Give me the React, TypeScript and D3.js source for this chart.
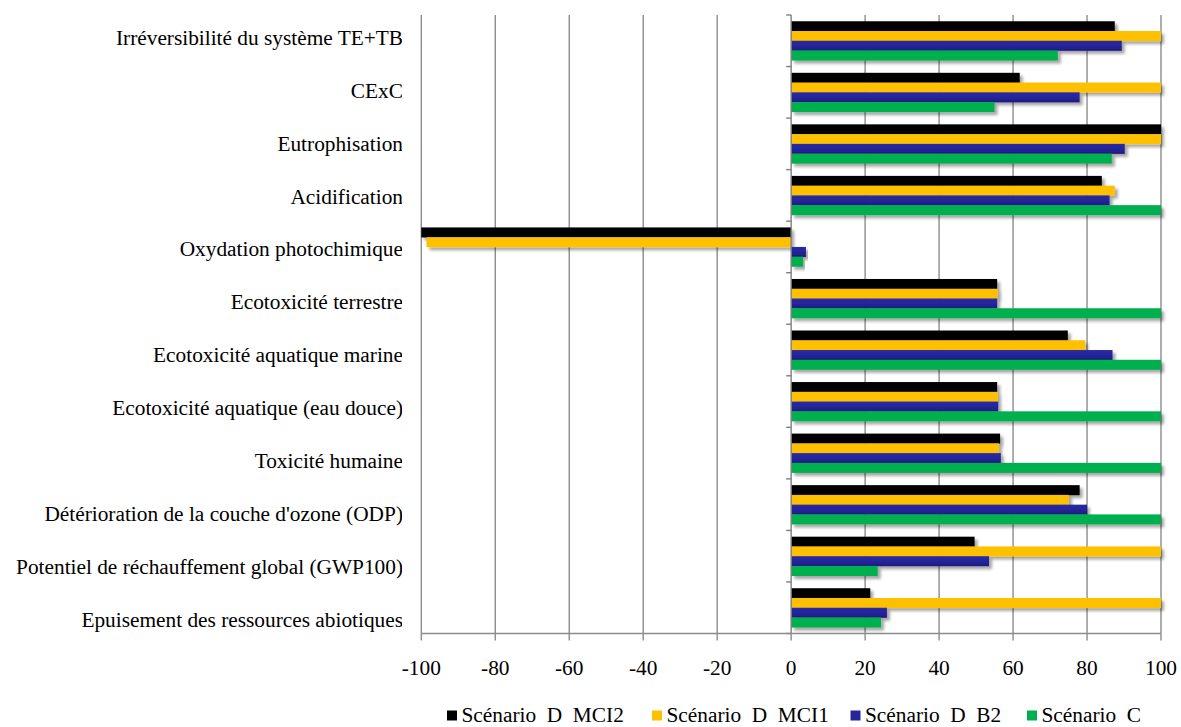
import React from "react";
import * as d3 from "d3";

const categories = [
  "Irréversibilité du système TE+TB",
  "CExC",
  "Eutrophisation",
  "Acidification",
  "Oxydation photochimique",
  "Ecotoxicité terrestre",
  "Ecotoxicité aquatique marine",
  "Ecotoxicité aquatique (eau douce)",
  "Toxicité humaine",
  "Détérioration de la couche d'ozone (ODP)",
  "Potentiel de réchauffement global (GWP100)",
  "Epuisement des ressources abiotiques",
];

const seriesNames = ["Scénario  D  MCI2", "Scénario  D  MCI1", "Scénario  D  B2", "Scénario  C"];

const scenarioD_MCI2 = [87.5, 61.8, 100, 84, -100, 55.7, 74.8, 55.7, 56.5, 78, 49.6, 21.4];
const scenarioD_MCI1 = [100, 100, 100, 87.5, -98.6, 55.9, 79.5, 55.9, 56.2, 75.1, 100, 100];
const scenarioD_B2 = [89.4, 78, 90.2, 86.1, 4.0, 55.7, 86.9, 56.0, 56.7, 80, 53.5, 25.9];
const scenarioC = [72.1, 55, 86.7, 100, 3.2, 100, 100, 100, 100, 100, 23.4, 24.3];

const xTicks = [-100, -80, -60, -40, -20, 0, 20, 40, 60, 80, 100];

const colors = ["#000000", "#FFC000", "#25259A", "#00B050"];
const textStyle: React.CSSProperties = {
  fontFamily: "\"Liberation Serif\", \"Times New Roman\", \"DejaVu Serif\", serif",
  fontSize: "21.33px",
  whiteSpace: "pre",
};

export default function App() {
  const W = 1181, H = 727;
  const plotLeft = 421.3, plotRight = 1161, plotTop = 15, plotBottom = 633.5;
  const x = d3.scaleLinear().domain([-100, 100]).range([plotLeft, plotRight]);
  const y = d3.scaleBand<string>().domain(categories).range([plotTop, plotBottom]).paddingInner(0.243).paddingOuter(0.1215);
  const yBounds = d3.scaleBand<string>().domain(categories).range([plotTop, plotBottom]);
  const ySub = d3.scaleBand<string>().domain(seriesNames).range([0, y.bandwidth()]);
  const yLabel = d3.scalePoint<string>().domain(categories).range([45, 626.5]);
  const series = [scenarioD_MCI2, scenarioD_MCI1, scenarioD_B2, scenarioC];
  const legendX = [447, 652, 850.5, 1027];

  return (
    <svg width={W} height={H} style={{ position: "absolute", left: 0, top: 0, background: "#fff" }}>
      <defs>
        <filter id="sh" x="-5%" y="-50%" width="115%" height="250%">
          <feGaussianBlur in="SourceAlpha" stdDeviation="1.5" />
          <feOffset dx="2.5" dy="3" result="b" />
          <feComponentTransfer>
            <feFuncA type="linear" slope="0.35" />
          </feComponentTransfer>
          <feMerge>
            <feMergeNode />
            <feMergeNode in="SourceGraphic" />
          </feMerge>
        </filter>
        <linearGradient id="blueGrad" x1="0" y1="0" x2="0" y2="1">
          <stop offset="0" stopColor="#2A2AA6" />
          <stop offset="0.5" stopColor="#25259A" />
          <stop offset="1" stopColor="#1C1C7E" />
        </linearGradient>
        <clipPath id="lblclip">
          <rect x={0} y={0} width={402} height={H} />
        </clipPath>
      </defs>

      {/* gridlines */}
      {xTicks.filter((t) => t !== 0).map((t) => (
        <line key={"g" + t} x1={x(t)} x2={x(t)} y1={plotTop} y2={plotBottom} stroke="#8C8C8C" strokeWidth={1.4} />
      ))}

      {/* bars */}
      {categories.map((c, i) => (
        <g key={c} transform={`translate(0,${y(c)})`}>
          {series.map((s, j) => {
            const v = s[i];
            const x0 = x(Math.min(0, v));
            const x1 = x(Math.max(0, v));
            return (
              <rect
                key={j}
                x={x0}
                y={ySub(seriesNames[j])}
                width={x1 - x0}
                height={ySub.bandwidth() + 0.3}
                fill={j === 2 ? "url(#blueGrad)" : colors[j]}
                filter="url(#sh)"
              />
            );
          })}
        </g>
      ))}

      {/* zero axis */}
      <line x1={x(0)} x2={x(0)} y1={plotTop} y2={plotBottom} stroke="#7F7F7F" strokeWidth={1.4} />
      {categories.map((c) => (
        <line key={"yt" + c} x1={x(0) - 5} x2={x(0)} y1={yBounds(c)} y2={yBounds(c)} stroke="#7F7F7F" strokeWidth={1.4} />
      ))}
      <line x1={x(0) - 5} x2={x(0)} y1={plotBottom} y2={plotBottom} stroke="#7F7F7F" strokeWidth={1.4} />

      {/* bottom axis */}
      <line x1={plotLeft} x2={plotRight} y1={plotBottom} y2={plotBottom} stroke="#8C8C8C" strokeWidth={1.4} />
      {xTicks.map((t) => (
        <g key={"xt" + t}>
          <line x1={x(t)} x2={x(t)} y1={plotBottom} y2={plotBottom + 7} stroke="#8C8C8C" strokeWidth={1.4} />
          <text x={x(t)} y={675} textAnchor="middle" fill="#000" style={textStyle}>
            {t}
          </text>
        </g>
      ))}

      {/* category labels */}
      <g clipPath="url(#lblclip)">
        {categories.map((c) => (
          <text key={"l" + c} x={403} y={yLabel(c)} textAnchor="end" fill="#000" style={textStyle}>
            {c}
          </text>
        ))}
      </g>

      {/* legend */}
      {seriesNames.map((n, j) => (
        <g key={"lg" + n}>
          <rect x={legendX[j]} y={710.5} width={10} height={10} fill={colors[j]} />
          <text x={legendX[j] + 14.5} y={722} fill="#000" style={textStyle}>
            {n}
          </text>
        </g>
      ))}
    </svg>
  );
}
